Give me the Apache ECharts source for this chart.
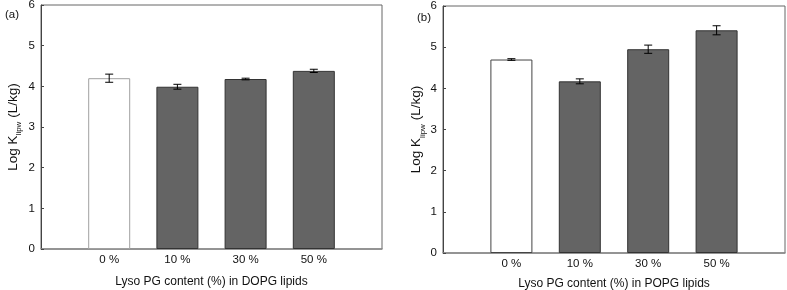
<!DOCTYPE html>
<html><head><meta charset="utf-8">
<script src="https://cdn.jsdelivr.net/npm/echarts@6/dist/echarts.min.js"></script>
<style>html,body{margin:0;padding:0;background:#fff}#c{width:787px;height:290px}</style>
</head><body><div id="c"></div>
<script>
const categories = ['0 %', '10 %', '30 %', '50 %'];
const positions = [1, 2, 3, 4];
const dopgValues = [4.20, 3.99, 4.18, 4.38];
const dopgErrors = [0.10, 0.06, 0.02, 0.04];
const popgValues = [4.70, 4.17, 4.95, 5.41];
const popgErrors = [0.02, 0.06, 0.10, 0.11];
const yTicks = [0, 1, 2, 3, 4, 5, 6];

const FONT = 'Liberation Sans, Arial, sans-serif';
const chart = echarts.init(document.getElementById('c'));

function barData(vals, firstBorder) {
  return vals.map((v, i) => ({
    value: [positions[i], v],
    itemStyle: i === 0
      ? { color: '#ffffff', borderColor: firstBorder, borderWidth: 1 }
      : { color: '#646464', borderColor: '#333333', borderWidth: 1 }
  }));
}
function errData(vals, errs) {
  return vals.map((v, i) => [positions[i], v, v - errs[i], v + errs[i]]);
}
function errSeries(idx, vals, errs) {
  return {
    type: 'custom', xAxisIndex: idx, yAxisIndex: idx, z: 10,
    data: errData(vals, errs),
    renderItem: function (params, api) {
      const x = api.value(0);
      const lo = api.coord([x, api.value(2)]);
      const hi = api.coord([x, api.value(3)]);
      const w = 4;
      const st = { stroke: '#000', lineWidth: 1 };
      return { type: 'group', children: [
        { type: 'line', shape: { x1: lo[0], y1: lo[1], x2: hi[0], y2: hi[1] }, style: st },
        { type: 'line', shape: { x1: lo[0] - w, y1: lo[1], x2: lo[0] + w, y2: lo[1] }, style: st },
        { type: 'line', shape: { x1: hi[0] - w, y1: hi[1], x2: hi[0] + w, y2: hi[1] }, style: st }
      ]};
    }
  };
}
function xAxis(idx, name, gap) {
  return {
    type: 'value', gridIndex: idx, min: 0, max: 5, interval: 1,
    name: name, nameLocation: 'middle', nameGap: gap,
    nameTextStyle: { fontFamily: FONT, fontSize: 12, color: '#111' },
    axisLine: { show: true, lineStyle: { color: '#8a8a8a', width: 1.5 } },
    axisTick: { show: false },
    splitLine: { show: false },
    axisLabel: {
      fontFamily: FONT, fontSize: 11.5, color: '#111', margin: 5,
      formatter: function (v) { const i = positions.indexOf(v); return i >= 0 ? categories[i] : ''; }
    }
  };
}
function yAxis(idx, gap) {
  return {
    type: 'value', gridIndex: idx, min: yTicks[0], max: yTicks[yTicks.length - 1], interval: 1,
    name: 'Log K{s|lipw} (L/kg)', nameLocation: 'middle', nameGap: gap, nameRotate: 90,
    nameTextStyle: { fontFamily: FONT, fontSize: 13.5, color: '#111',
      rich: { s: { fontFamily: FONT, fontSize: 8, color: '#111', verticalAlign: 'bottom', padding: [0, 0, -3, 0] } } },
    axisLine: { show: true, lineStyle: { color: '#444', width: 1 } },
    axisTick: { show: true, inside: true, length: 3, lineStyle: { color: '#444' } },
    splitLine: { show: false },
    axisLabel: { fontFamily: FONT, fontSize: 11.5, color: '#111', margin: 6 }
  };
}

chart.setOption({
  animation: false,
  backgroundColor: '#fff',
  title: [
    { text: '(a)', left: 0, top: 4, textStyle: { fontFamily: FONT, fontSize: 11.5, fontWeight: 'normal', color: '#111' } },
    { text: '(b)', left: 412, top: 7, textStyle: { fontFamily: FONT, fontSize: 11.5, fontWeight: 'normal', color: '#111' } }
  ],
  grid: [
    { left: 41, top: 5, width: 341, height: 244, outerBoundsMode: 'none', containLabel: false, show: true, borderColor: '#666', borderWidth: 1, backgroundColor: 'transparent' },
    { left: 443, top: 6, width: 342, height: 247, outerBoundsMode: 'none', containLabel: false, show: true, borderColor: '#666', borderWidth: 1, backgroundColor: 'transparent' }
  ],
  xAxis: [xAxis(0, 'Lyso PG content (%) in DOPG lipids', 27), xAxis(1, 'Lyso PG content (%) in POPG lipids', 25)],
  yAxis: [yAxis(0, 21), yAxis(1, 19)],
  series: [
    { type: 'bar', xAxisIndex: 0, yAxisIndex: 0, barWidth: 42, data: barData(dopgValues, '#a0a0a0') },
    errSeries(0, dopgValues, dopgErrors),
    { type: 'bar', xAxisIndex: 1, yAxisIndex: 1, barWidth: 42, data: barData(popgValues, '#444444') },
    errSeries(1, popgValues, popgErrors)
  ]
});
</script></body></html>
